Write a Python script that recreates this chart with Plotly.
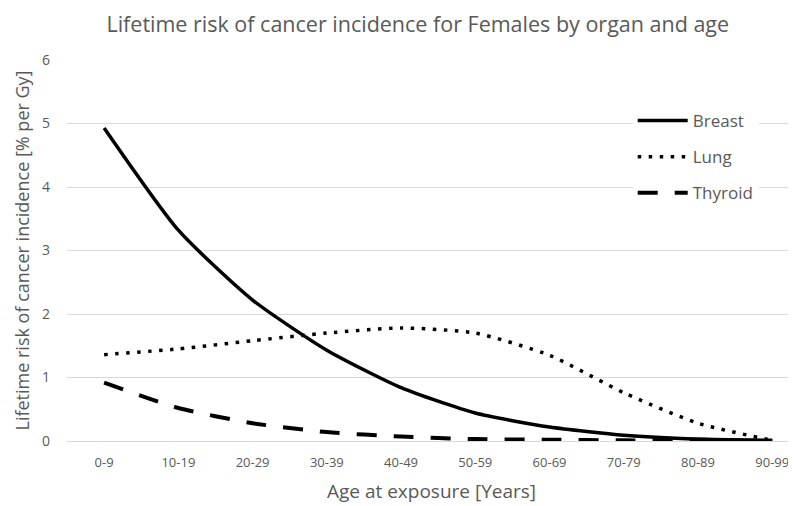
import plotly.graph_objects as go

categories = ["0-9", "10-19", "20-29", "30-39", "40-49", "50-59", "60-69", "70-79", "80-89", "90-99"]
breast = [4.93, 3.32, 2.22, 1.43, 0.84, 0.44, 0.22, 0.09, 0.03, 0.01]
lung = [1.36, 1.45, 1.58, 1.70, 1.78, 1.70, 1.35, 0.76, 0.28, 0.01]
thyroid = [0.92, 0.52, 0.28, 0.14, 0.07, 0.03, 0.02, 0.01, 0.005, 0.0]
y_ticks = [0, 1, 2, 3, 4, 5, 6]

idx = list(range(len(categories)))
FONT = "Open Sans"
GREY = "#595959"

fig = go.Figure()
fig.add_trace(go.Scatter(x=idx, y=breast, name="Breast", mode="lines",
                         line=dict(color="black", width=3.5, shape="spline", smoothing=0.6),
                         legendgroup="a"))
fig.add_trace(go.Scatter(x=idx, y=lung, name="Lung", mode="lines",
                         line=dict(color="black", width=3.5, dash="3.5px,7.5px", shape="spline", smoothing=0.6),
                         legendgroup="b"))
fig.add_trace(go.Scatter(x=idx, y=thyroid, name="Thyroid", mode="lines",
                         line=dict(color="black", width=4, dash="20px,17px", shape="spline", smoothing=0.6),
                         legendgroup="c"))

fig.update_layout(
    width=788, height=498,
    margin=dict(l=59, r=0, t=52, b=65),
    paper_bgcolor="white", plot_bgcolor="white",
    font=dict(family=FONT, color=GREY, size=13),
    title=dict(text="Lifetime risk of cancer incidence for Females by organ and age",
               x=0.52, xanchor="center", y=1 - 16 / 498, yanchor="middle",
               font=dict(family=FONT, size=21.5, color=GREY)),
    xaxis=dict(tickmode="array", tickvals=idx, ticktext=categories,
               range=[-0.5, 9.32], showgrid=False, zeroline=False,
               showline=False, ticks="", ticklabelstandoff=12, automargin=False,
               tickfont=dict(size=13, color=GREY),
               title=dict(text="Age at exposure [Years]", standoff=14,
                          font=dict(size=19, color=GREY))),
    yaxis=dict(range=[0, 6], tickvals=y_ticks, showgrid=True, gridcolor="#d9d9d9",
               gridwidth=1, zeroline=True, zerolinecolor="#d9d9d9", zerolinewidth=1,
               showline=False, ticks="", ticklabelstandoff=16, automargin=False,
               tickfont=dict(size=14, color=GREY),
               title=dict(text="Lifetime risk of cancer incidence [% per Gy]", standoff=7,
                          font=dict(size=18, color=GREY))),
    legend=dict(x=0.776, y=0.887, xanchor="left", yanchor="top",
                bgcolor="white", font=dict(size=17, color=GREY),
                tracegroupgap=11, itemwidth=50),
    showlegend=True,
)

fig.write_html("out.html")
